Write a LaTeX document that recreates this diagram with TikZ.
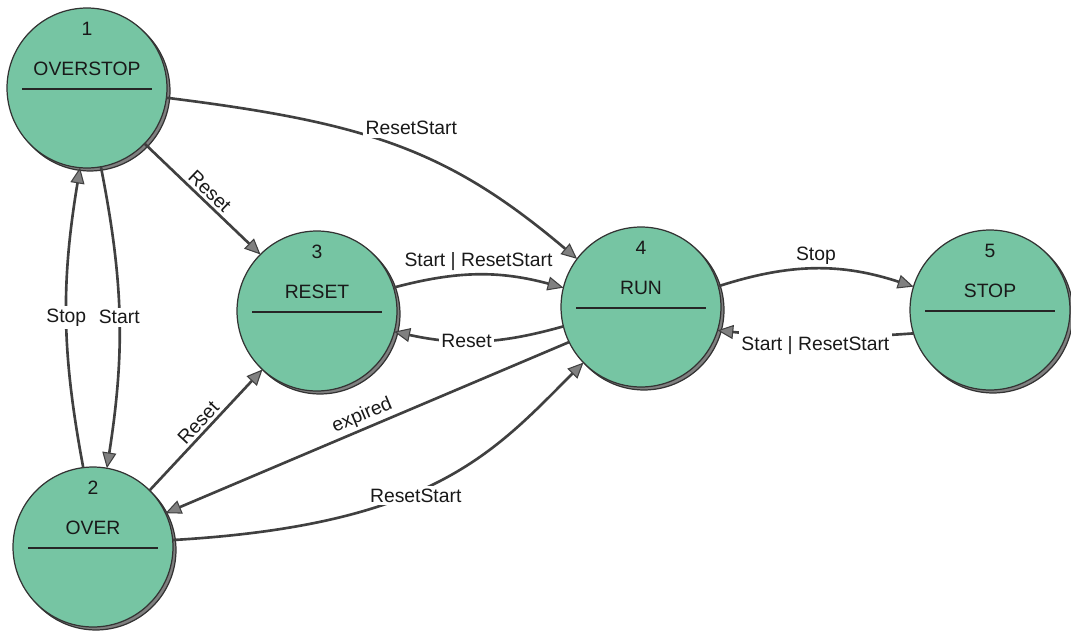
\documentclass[tikz,border=0pt]{standalone}
\usepackage{fontspec}
\setmainfont{Liberation Sans}
\usepackage{tikz}
\usetikzlibrary{arrows.meta,positioning,calc}
\definecolor{stategreen}{RGB}{118,197,163}
\tikzstyle{state}=[draw=black!80,fill=stategreen,circle,minimum size=3.2cm,inner sep=0pt,outer sep=0pt,line width=0.7pt,
  preaction={draw=black!80,fill=gray,transform canvas={shift={(1.7pt,-1.7pt)}}}]
\tikzstyle{trans}=[line width=1.5pt,draw=black!75,-{Triangle[length=9pt,width=8pt,fill=gray,line width=0.6pt]}]
\tikzstyle{tlbl}=[inner sep=1.5pt,font=\fontsize{11}{13}\selectfont,text=black!90]
\tikzstyle{lbl}=[tlbl,fill=white]
\tikzstyle{divider}=[line width=1.2pt,black!85]

\begin{document}
\begin{tikzpicture}[x=0.02cm,y=-0.02cm]
\useasboundingbox (0,0) rectangle (1071,635);
% states
\node [state] (s1) at (87,88) {};
\node [state] (s2) at (93,547) {};
\node [state] (s3) at (317,311) {};
\node [state] (s4) at (641,307) {};
\node [state] (s5) at (990,310) {};
\foreach \n/\t in {1/OVERSTOP,2/OVER,3/RESET,4/RUN,5/STOP} {
  \node [tlbl] (n\n) at ($(s\n)+(0,-59)$) {\n};
  \node [tlbl] (t\n) at ($(s\n)+(0,-19)$) {\t};
  \draw [divider] ($(s\n)+(-65,1)$) -- ($(s\n)+(65,1)$);
}
% transitions
\draw [trans] (s1.-7) .. controls +(200,25) and +(-130,-110) .. node[lbl,pos=0.4,anchor=south west,xshift=1pt,yshift=-3pt] {ResetStart} (s4.143);
\draw [trans] (s1.-44) -- node[tlbl,sloped,above] {Reset} (s3.135);
\draw [trans] (s1.-80) to[bend left=10] node[lbl] {Start} (s2.80);
\draw [trans] (s2.97) to[bend left=10] node[lbl] {Stop} (s1.-95);
\draw [trans] (s2.45) -- node[tlbl,sloped,above] {Reset} (s3.-133);
\draw [trans] (s2.5) .. controls +(260,-15) and +(-90,90) .. node[lbl,pos=0.43,yshift=-2pt] {ResetStart} (s4.-136);
\draw [trans] (s4.206) -- node[tlbl,sloped,above] {expired} (s2.25);
\draw [trans] (s3.17) to[bend left=15] node[tlbl,above] {Start | ResetStart} (s4.166);
\draw [trans] (s4.194) to[bend left=14] node[lbl,pos=0.58] {Reset} (s3.-15);
\draw [trans] (s4.15) to[bend left=18] node[tlbl,above] {Stop} (s5.163);
\draw [trans] (s5.-163) to[bend left=5] node[lbl,inner ysep=4pt,yshift=-5pt] {Start | ResetStart} (s4.-17);
\end{tikzpicture}
\end{document}
